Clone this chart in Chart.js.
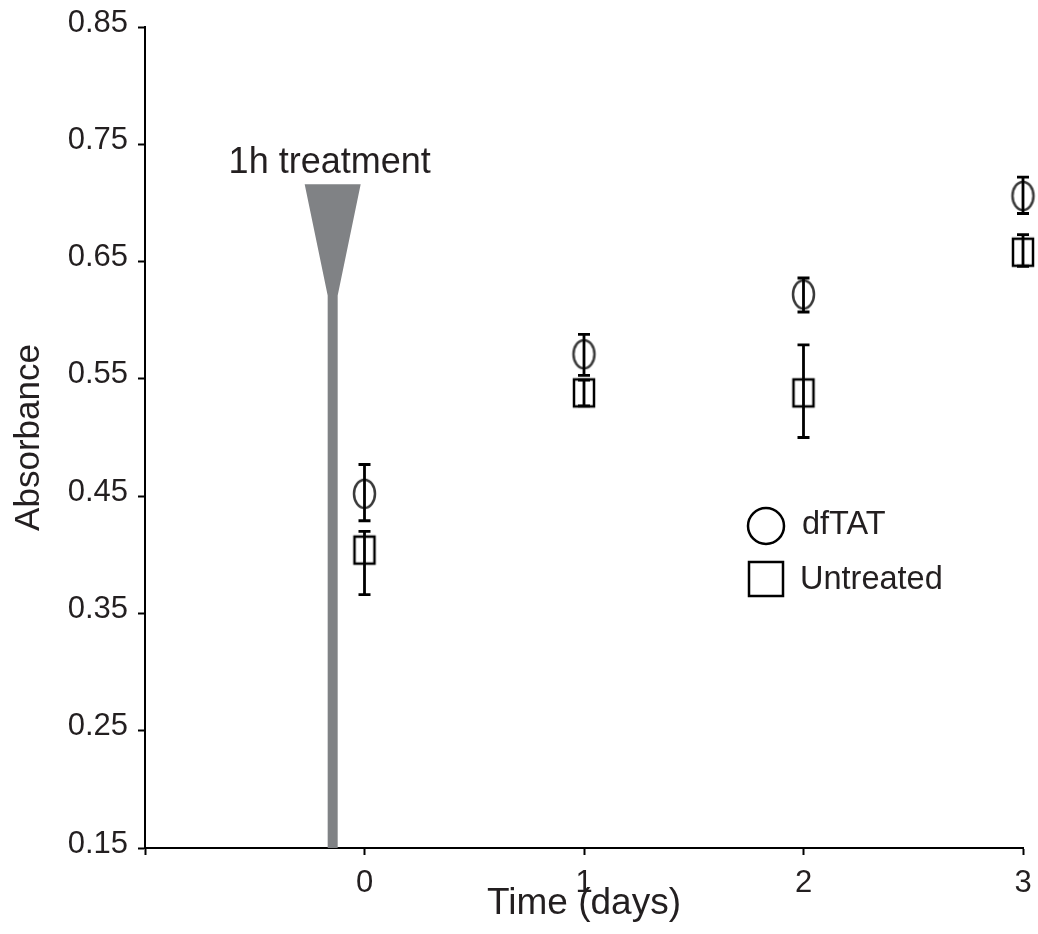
<!DOCTYPE html>
<html>
<head>
<meta charset="utf-8">
<title>Absorbance over time</title>
<script src="https://cdn.jsdelivr.net/npm/chart.js@4.4.1/dist/chart.umd.min.js"></script>
<style>
  html, body { margin: 0; padding: 0; background: #fff; overflow: hidden; }
  #wrap { width: 1038px; height: 934px; }
</style>
</head>
<body>
<div id="wrap"><canvas id="absChart"></canvas></div>
<script>
// Values
const days = [0, 1, 2, 3];

const dftatMean = [0.452, 0.571, 0.622, 0.706];
const dftatHi   = [0.477, 0.588, 0.636, 0.722];
const dftatLo   = [0.429, 0.553, 0.607, 0.691];

const untreatedMean = [0.404, 0.538, 0.538, 0.658];
const untreatedHi   = [0.420, 0.549, 0.579, 0.673];
const untreatedLo   = [0.366, 0.527, 0.500, 0.646];

const xTicks = [-1, 0, 1, 2, 3];
const yTicks = [0.15, 0.25, 0.35, 0.45, 0.55, 0.65, 0.75, 0.85];

const treatmentLabel = '1h treatment';
const treatmentDay = -0.145;
const treatmentTop = 0.716;
const treatmentNeck = 0.621;

const seriesLabels = ['dfTAT', 'Untreated'];

const FONT = '"Liberation Sans", Arial, Helvetica, sans-serif';
const INK = '#231f20';
const GREY = '#808285';

// marker images (ellipse / tall rectangle like in the figure)
function makeMarker(shape, w, h) {
    const c = document.createElement('canvas');
    c.width = w + 6;
    c.height = h + 6;
    const g = c.getContext('2d');
    g.fillStyle = '#fff';
    g.lineWidth = 2.5;
    if (shape === 'ellipse') {
        g.strokeStyle = '#3a3a3a';
        g.beginPath();
        g.ellipse(c.width / 2, c.height / 2, w / 2, h / 2, 0, 0, Math.PI * 2);
        g.fill();
        g.stroke();
    } else {
        g.strokeStyle = '#000';
        g.fillRect(3, 3, w, h);
        g.strokeRect(3, 3, w, h);
    }
    return c;
}

const toXY = (vals) => vals.map((v, i) => ({x: days[i], y: v}));

const errorBars = {
    id: 'errorBars',
    afterDatasetsDraw(chart) {
        const {ctx, scales: {x, y}} = chart;
        ctx.save();
        ctx.strokeStyle = '#000';
        ctx.lineWidth = 2.8;
        chart.data.datasets.forEach(ds => {
            if (!ds.errLo) return;
            ds.errLo.forEach((lo, i) => {
                const px = x.getPixelForValue(ds.data[i].x);
                const top = y.getPixelForValue(ds.errHi[i]);
                const bot = y.getPixelForValue(lo);
                ctx.beginPath();
                ctx.moveTo(px, top); ctx.lineTo(px, bot);
                ctx.moveTo(px - 6, top); ctx.lineTo(px + 6, top);
                ctx.moveTo(px - 6, bot); ctx.lineTo(px + 6, bot);
                ctx.stroke();
            });
        });
        ctx.restore();
    }
};

const treatmentMark = {
    id: 'treatmentMark',
    beforeDatasetsDraw(chart) {
        const {ctx, scales: {x, y}} = chart;
        const cx = x.getPixelForValue(treatmentDay);
        const yTop = y.getPixelForValue(treatmentTop);
        const yNeck = y.getPixelForValue(treatmentNeck);
        const yBase = y.getPixelForValue(yTicks[0]);
        ctx.save();
        ctx.fillStyle = GREY;
        ctx.beginPath();
        ctx.moveTo(cx - 28, yTop);
        ctx.lineTo(cx + 28, yTop);
        ctx.lineTo(cx + 5, yNeck);
        ctx.lineTo(cx + 5, yBase);
        ctx.lineTo(cx - 5, yBase);
        ctx.lineTo(cx - 5, yNeck);
        ctx.closePath();
        ctx.fill();

        ctx.fillStyle = INK;
        ctx.font = `36px ${FONT}`;
        ctx.textAlign = 'center';
        ctx.textBaseline = 'alphabetic';
        ctx.fillText(treatmentLabel, cx - 3, yTop - 11);
        ctx.restore();
    }
};

const sideLegend = {
    id: 'sideLegend',
    afterDraw(chart) {
        const {ctx, chartArea} = chart;
        const lx = chartArea.left + 621;
        const ly = chartArea.top + 499;
        ctx.save();
        ctx.lineWidth = 2.5;
        ctx.strokeStyle = '#000';
        ctx.beginPath();
        ctx.arc(lx, ly, 18, 0, Math.PI * 2);
        ctx.stroke();
        ctx.strokeRect(lx - 17, ly + 53 - 17, 34, 34);

        ctx.fillStyle = INK;
        ctx.font = `32.5px ${FONT}`;
        ctx.textAlign = 'left';
        ctx.textBaseline = 'middle';
        ctx.fillText(seriesLabels[0], lx + 36, ly - 1);
        ctx.fillText(seriesLabels[1], lx + 34, ly + 54);
        ctx.restore();
    }
};

const axisBase = {
    grid: {display: true, drawOnChartArea: false, drawTicks: true, tickLength: 7, tickWidth: 2, tickColor: '#000'},
    border: {display: true, color: '#000', width: 2}
};

new Chart(document.getElementById('absChart').getContext('2d'), {
    type: 'scatter',
    data: {
        datasets: [
            {
                label: seriesLabels[1],
                data: toXY(untreatedMean),
                errHi: untreatedHi,
                errLo: untreatedLo,
                pointStyle: makeMarker('rect', 20, 27),
                pointRadius: 14,
                clip: false
            },
            {
                label: seriesLabels[0],
                data: toXY(dftatMean),
                errHi: dftatHi,
                errLo: dftatLo,
                pointStyle: makeMarker('ellipse', 21, 28),
                pointRadius: 14,
                clip: false
            }
        ]
    },
    options: {
        responsive: true,
        maintainAspectRatio: false,
        animation: false,
        layout: {padding: {top: 27, right: 0, left: 0, bottom: 0}},
        plugins: {
            legend: {display: false},
            tooltip: {enabled: false}
        },
        scales: {
            x: {
                ...axisBase,
                type: 'linear',
                min: -1,
                max: 3,
                afterBuildTicks: (s) => { s.ticks = xTicks.map(v => ({value: v})); },
                afterFit: (s) => {
                    s.height = 86;
                    s.paddingLeft = 0;
                    s.paddingRight = 0;
                },
                ticks: {
                    padding: 10,
                    color: INK,
                    font: {family: FONT, size: 31},
                    maxRotation: 0,
                    callback: (v) => (v < 0 ? '' : String(v))
                },
                title: {
                    display: true,
                    text: 'Time (days)',
                    color: INK,
                    font: {family: FONT, size: 37},
                    padding: {top: 0, bottom: 8}
                }
            },
            y: {
                ...axisBase,
                min: 0.15,
                max: 0.85,
                afterBuildTicks: (s) => { s.ticks = yTicks.map(v => ({value: v})); },
                afterFit: (s) => {
                    s.width = 145;
                    s.paddingTop = 0;
                    s.paddingBottom = 0;
                },
                ticks: {
                    padding: 10,
                    labelOffset: -4,
                    color: INK,
                    font: {family: FONT, size: 31},
                    callback: (v) => Number(v).toFixed(2)
                },
                title: {
                    display: true,
                    text: 'Absorbance',
                    color: INK,
                    font: {family: FONT, size: 35},
                    padding: {top: 8, bottom: 0}
                }
            }
        }
    },
    plugins: [treatmentMark, errorBars, sideLegend]
});
</script>
</body>
</html>
